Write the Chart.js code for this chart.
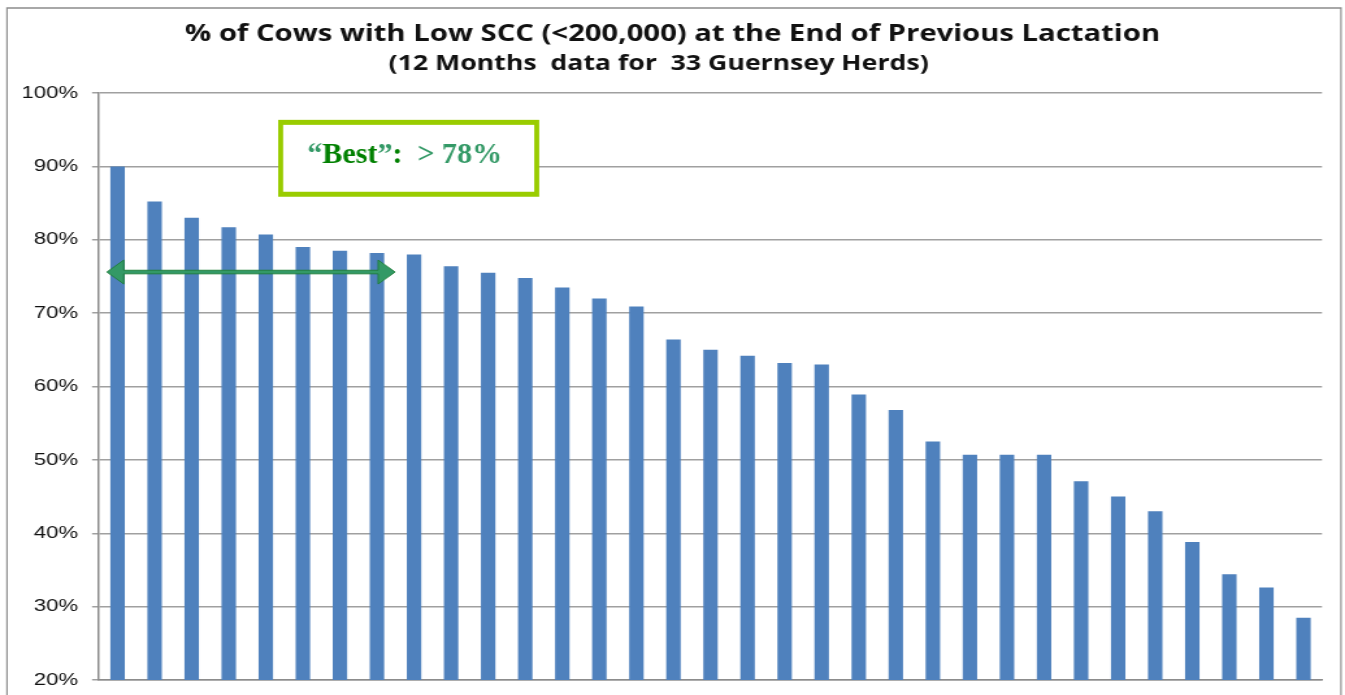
<!DOCTYPE html>
<html>
<head>
<meta charset="utf-8">
<title>% of Cows with Low SCC</title>
<script src="https://cdn.jsdelivr.net/npm/chart.js@4.4.0/dist/chart.umd.min.js"></script>
<style>
    html, body { margin: 0; padding: 0; background: #fff; overflow: hidden; }
    #sccChart { display: block; }
</style>
</head>
<body>
<!-- the original chart is stretched sideways, so the canvas is drawn narrower and widened by css -->
<canvas id="sccChart" width="1035" height="695" style="width:1345px;height:695px"></canvas>
<script>
// === Data ===
const herds = ["1", "2", "3", "4", "5", "6", "7", "8", "9", "10", "11",
               "12", "13", "14", "15", "16", "17", "18", "19", "20", "21", "22",
               "23", "24", "25", "26", "27", "28", "29", "30", "31", "32", "33"];
const lowSccPct = [90.0, 85.2, 83.0, 81.7, 80.7, 79.0, 78.5, 78.2, 78.0, 76.4, 75.5,
                   74.8, 73.5, 72.0, 70.9, 66.4, 65.0, 64.2, 63.2, 63.0, 58.9, 56.8,
                   52.5, 50.7, 50.7, 50.7, 47.1, 45.0, 43.0, 38.8, 34.4, 32.6, 28.5];
const yTickLabels = ["20%", "30%", "40%", "50%", "60%", "70%", "80%", "90%", "100%"];

const chartTitle = "% of Cows with Low SCC (<200,000) at the End of Previous Lactation";
// trailing spaces nudge the centred subtitle a little left, as in the original
const chartSubtitle = "(12 Months  data for  33 Guernsey Herds)    ";

const stretch = 1345 / 1035;

// frame, "Best" box and arrow, drawn in css pixel space
const overlayPlugin = {
    id: "overlay",
    beforeDraw(chart) {
        const ctx = chart.ctx;
        ctx.save();
        ctx.scale(1 / stretch, 1);
        ctx.strokeStyle = "#8c8c8c";
        ctx.lineWidth = 1.5;
        ctx.strokeRect(7, 8, 1334, 700);
        ctx.restore();
    },
    afterDatasetsDraw(chart) {
        const ctx = chart.ctx;
        const x = chart.scales.x, y = chart.scales.y;
        const px = v => x.getPixelForValue(v) * stretch;

        ctx.save();
        ctx.scale(1 / stretch, 1);

        // double arrow over the top herds
        const x1 = px(-0.29), x2 = px(7.49), ay = y.getPixelForValue(75.6);
        const hl = 17, hh = 12, t = 1.8;
        ctx.beginPath();
        ctx.moveTo(x1, ay);
        ctx.lineTo(x1 + hl, ay - hh);
        ctx.lineTo(x1 + hl, ay - t);
        ctx.lineTo(x2 - hl, ay - t);
        ctx.lineTo(x2 - hl, ay - hh);
        ctx.lineTo(x2, ay);
        ctx.lineTo(x2 - hl, ay + hh);
        ctx.lineTo(x2 - hl, ay + t);
        ctx.lineTo(x1 + hl, ay + t);
        ctx.lineTo(x1 + hl, ay + hh);
        ctx.closePath();
        ctx.fillStyle = "#339966";
        ctx.fill();
        ctx.strokeStyle = "#1d7d36";
        ctx.lineWidth = 1;
        ctx.stroke();

        // "Best" box
        const bl = px(4.40), br = px(11.31);
        const bt = y.getPixelForValue(96.0), bb = y.getPixelForValue(86.2);
        ctx.fillStyle = "#fff";
        ctx.fillRect(bl, bt, br - bl, bb - bt);
        ctx.strokeStyle = "#99cc00";
        ctx.lineWidth = 5;
        ctx.strokeRect(bl, bt, br - bl, bb - bt);

        const parts = [
            ["\u201C", "#339966"],
            ["Best", "#008000"],
            ["\u201D", "#339966"],
            [":", "#008000"],
            ["  > 78%", "#339966"]
        ];
        ctx.font = "bold 30px 'Liberation Serif', 'Times New Roman', serif";
        ctx.textBaseline = "alphabetic";
        let total = 0;
        parts.forEach(p => { total += ctx.measureText(p[0]).width; });
        let tx = (bl + br) / 2 - total / 2 - 4;
        const ty = (bt + bb) / 2 + 5;
        parts.forEach(p => {
            ctx.fillStyle = p[1];
            ctx.fillText(p[0], tx, ty);
            tx += ctx.measureText(p[0]).width;
        });
        ctx.restore();
    }
};

const ctx = document.getElementById("sccChart").getContext("2d");

new Chart(ctx, {
    type: "bar",
    data: {
        labels: herds,
        datasets: [{
            label: "% Low SCC",
            data: lowSccPct,
            backgroundColor: "#4f81bd",
            borderWidth: 0,
            barPercentage: 0.39,
            categoryPercentage: 1.0
        }]
    },
    options: {
        responsive: false,
        animation: false,
        layout: {
            padding: { left: 17.7, right: 17.7, top: 0, bottom: 15 }
        },
        plugins: {
            legend: { display: false },
            tooltip: { enabled: false },
            title: {
                display: true,
                text: chartTitle,
                color: "#111",
                font: { family: "Open Sans", size: 22.5, weight: "bold", lineHeight: 1.2 },
                padding: { top: 21.5, bottom: 0 }
            },
            subtitle: {
                display: true,
                text: chartSubtitle,
                color: "#111",
                font: { family: "Open Sans", size: 20.5, weight: "bold", lineHeight: 1.2 },
                padding: { top: 3.2, bottom: 16.7 }
            }
        },
        scales: {
            x: {
                ticks: { display: false },
                grid: { display: false, drawTicks: false },
                border: { color: "#8c8c8c", width: 1.5 },
                afterFit(scale) { scale.height = 0; }
            },
            y: {
                min: 20,
                max: 100,
                ticks: {
                    stepSize: 10,
                    padding: 10.8,
                    color: "#111",
                    font: { family: "Liberation Sans", size: 17 },
                    callback: (v, i) => yTickLabels[i]
                },
                grid: {
                    color: "#a0a0a0",
                    lineWidth: 1.5,
                    tickLength: 5.4,
                    tickColor: "#a0a0a0"
                },
                border: { color: "#8c8c8c", width: 1.5 },
                afterFit(scale) {
                    scale.width = 58.5;
                    // the end labels may hang over the plot edges
                    scale.paddingTop = 0;
                    scale.paddingBottom = 0;
                }
            }
        }
    },
    plugins: [overlayPlugin]
});
</script>
</body>
</html>
